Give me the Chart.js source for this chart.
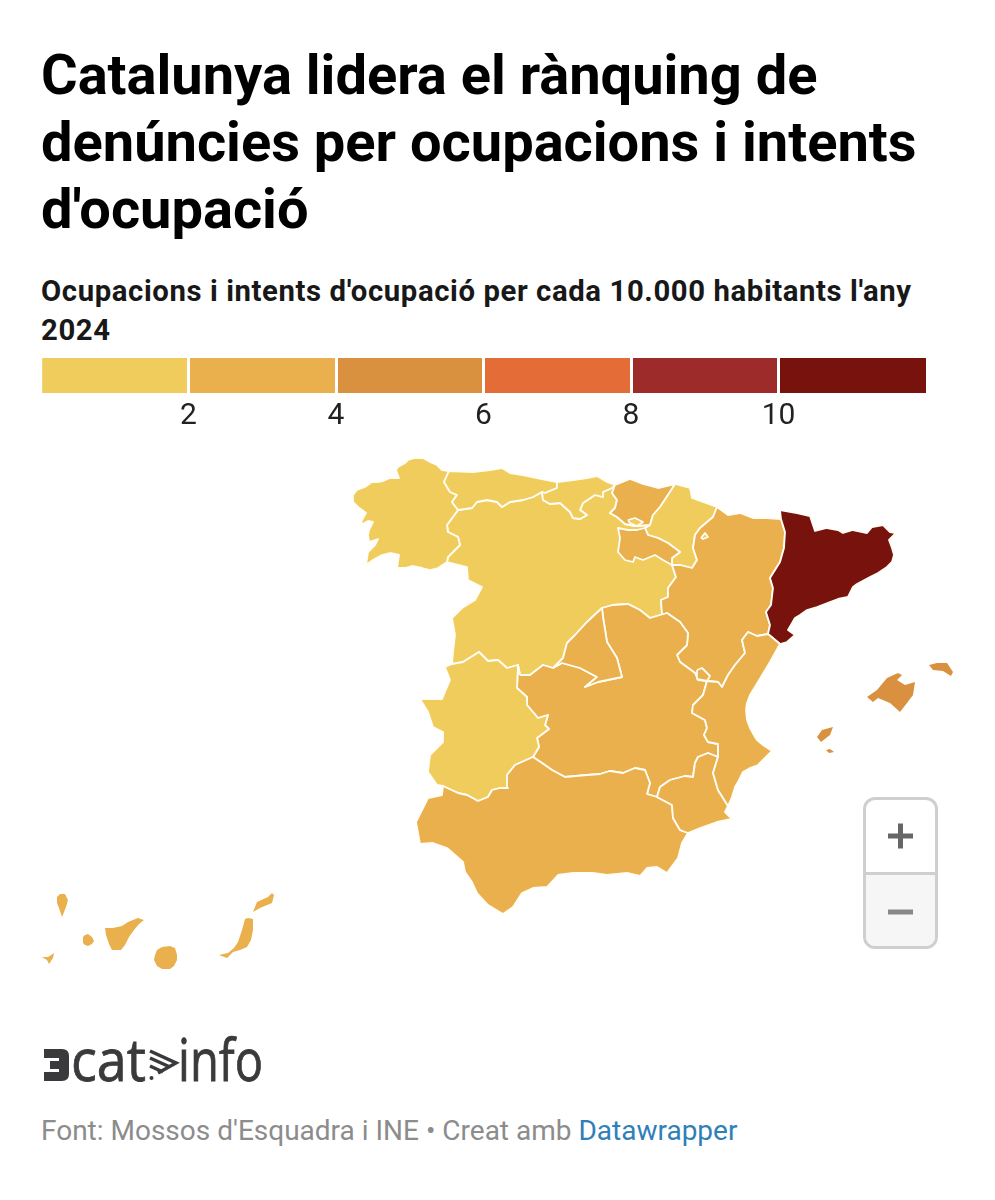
<!DOCTYPE html>
<html lang="ca">
<head>
<meta charset="utf-8">
<title>Catalunya lidera el rànquing de denúncies</title>
<script src="https://cdn.jsdelivr.net/npm/chart.js@4"></script>
<style>
	html, body { margin: 0; padding: 0; background: #fff; }
	body { position: relative; width: 995px; height: 1200px; overflow: hidden; font-family: Roboto, sans-serif; color: #000; }
	.abs { position: absolute; }
	#title { left: 41px; top: 42px; width: 930px; font-size: 56px; line-height: 67px; font-weight: 700; margin: 0; }
	#subtitle { left: 41px; top: 272px; width: 900px; font-size: 29.3px; line-height: 39px; font-weight: 700; color: #181818; letter-spacing: 0.6px; }
	#legendBox { left: 41px; top: 358px; width: 885px; height: 70px; }
	#mapBox { left: 0; top: 440px; width: 995px; height: 550px; }
	#zoomBox { left: 863px; top: 797px; width: 69px; height: 146px; border: 3px solid #cfcfcf; border-radius: 12px; overflow: hidden; }
	#zoomBox div { height: 72px; position: relative; }
	#zoomBox .minus { background: #f6f6f6; border-top: 3px solid #cfcfcf; height: 71px; }
	#zoomBox svg { position: absolute; left: 0; top: 0; }
	#footer { left: 41px; top: 1114px; font-size: 28px; line-height: 34px; color: #8c8c8c; white-space: nowrap; }
	#footer span { color: #2f7fb8; }
	#logo { left: 0; top: 1020px; }
</style>
</head>
<body>
<h1 id="title" class="abs">Catalunya lidera el rànquing de denúncies per ocupacions i intents d'ocupació</h1>
<div id="subtitle" class="abs">Ocupacions i intents d'ocupació per cada 10.000 habitants l'any 2024</div>
<div id="legendBox" class="abs"><canvas id="legendChart"></canvas></div>
<div id="mapBox" class="abs"><canvas id="mapChart"></canvas></div>
<div id="zoomBox" class="abs">
	<div><svg width="69" height="72"><path d="M22 36H47M34.500 23.500V48.500" stroke="#666" stroke-width="5" fill="none"/></svg></div>
	<div class="minus"><svg width="69" height="71"><path d="M22 37H47" stroke="#888" stroke-width="5" fill="none"/></svg></div>
</div>
<svg id="logo" class="abs" width="300" height="75">
	<path d="M44 29H62Q69 29 69 36V54Q69 61 62 61H44V52H59V49H50V41H59V38H44Z" fill="#3a3a3c"/>
	<text x="71" y="61" font-family="Open Sans" font-size="58" fill="#3a3a3c" stroke="#3a3a3c" stroke-width="0.8" textLength="75" lengthAdjust="spacingAndGlyphs">cat</text>
	<path d="M150 31L176 43L158 53M150 38L170 47M150 46L163 52" stroke="#3a3a3c" stroke-width="3.500" fill="none"/>
	<circle cx="151.500" cy="58" r="2" fill="#3a3a3c"/>
	<text x="178" y="61" font-family="Open Sans" font-size="58" fill="#3a3a3c" stroke="#3a3a3c" stroke-width="0.8" textLength="85" lengthAdjust="spacingAndGlyphs">info</text>
</svg>
<div id="footer" class="abs">Font: Mossos d'Esquadra i INE • Creat amb <span>Datawrapper</span></div>

<script>
// Colour bins of the legend
const binBreaks = [0, 2, 4, 6, 8, 10, 12];
const binColors = ['#efcc5c', '#e9b04d', '#d9913f', '#e46c36', '#9c2b2a', '#77120d'];

// Regions and estimated value (only the colour class can be read from the map)
const regionNames = ['Castella i Lleó', 'Galícia', 'Astúries', 'Cantàbria', 'País Basc', 'Navarra', 'La Rioja', 'Aragó', 'Catalunya', 'Castella-la Manxa', 'Madrid', 'Extremadura', 'Andalusia', 'Múrcia', 'País Valencià', 'Balears', 'Canàries'];
const regionValues = [1.2, 1.1, 1.3, 1.4, 2.6, 1.7, 2.5, 2.8, 11, 2.9, 3.0, 1.5, 3.1, 2.8, 3.3, 4.6, 3.0];

// Shared borders, in map units
const galAst = [[449,471],[444,482],[450,492],[457,495],[452,502],[458,510]];
const galCyl = [[458,510],[447,525],[448,532],[458,537],[460,545],[448,557],[447,562]];
const astCyl = [[458,510],[472,508],[477,502],[487,500],[497,502],[502,507],[510,502],[523,500],[533,497],[542,492]];
const astCan = [[557,482],[557,488],[545,493],[542,492]];
const canCyl = [[542,492],[543,500],[550,504],[560,503],[570,512],[573,518],[580,519],[587,515],[580,510],[583,503],[595,495],[603,497],[603,492],[612,488],[615,485]];
const basCyl = [[615,485],[612,493],[617,500],[615,508],[610,513],[617,517],[625,524],[635,526],[650,525]];
const basNav = [[675,484],[668,495],[660,507],[653,515],[650,525]];
const navRio = [[672,565],[672,558],[680,552],[668,543],[658,538],[648,535],[645,528],[650,525]];
const navAra = [[717,507],[713,517],[700,528],[695,535],[693,548],[697,560],[692,568],[680,565],[672,565]];
const araCat = [[781,519],[785,532],[784,548],[780,562],[770,578],[773,588],[771,605],[766,612],[770,625],[768,634]];
const araVal = [[768,634],[757,636],[748,632],[742,640],[745,653],[735,665],[728,675],[722,687],[718,682],[707,681]];
const araClm = [[707,681],[698,680],[695,673],[680,662],[677,655],[687,645],[688,633],[680,622],[667,613]];
const araCyl = [[667,613],[662,615],[661,600],[668,597],[668,588],[676,577],[672,565]];
const cylClm = [[602,608],[613,605],[628,604],[640,610],[650,618],[667,613]];
const cylMad = [[553,668],[563,658],[567,643],[575,635],[587,622],[602,608]];
const madClm = [[553,668],[562,663],[580,668],[597,677],[585,687],[598,682],[622,677],[617,658],[607,642],[603,617],[602,608]];
const clmCylWest = [[518,665],[520,675],[530,675],[543,665],[553,668]];
const extCyl = [[452,664],[463,662],[479,652],[488,661],[498,660],[507,668],[518,665]];
const extClm = [[518,665],[517,688],[527,697],[527,705],[538,718],[548,715],[545,725],[549,729],[537,738],[539,747],[533,757]];
const extAnd = [[443,786],[458,793],[467,795],[478,801],[488,797],[492,790],[500,788],[508,788],[507,775],[515,765],[533,757]];
const andClm = [[533,757],[542,763],[552,770],[565,777],[587,775],[600,774],[610,771],[623,773],[635,768],[645,770],[650,783],[647,794],[657,797]];
const andMur = [[688,833],[680,830],[673,818],[672,805],[657,797]];
const murClm = [[657,797],[660,787],[670,780],[685,776],[693,777],[695,763],[698,757],[708,753],[718,757]];
const valMur = [[728,806],[718,790],[713,773],[718,757]];
const valClm = [[707,681],[703,695],[693,705],[692,713],[705,720],[707,728],[704,735],[708,742],[718,744],[718,757]];

// Coast and frontier stretches
const galCoast = [[449,471],[442,470],[437,465],[430,462],[423,458],[415,458],[408,460],[405,463],[398,467],[396,470],[399,478],[390,478],[383,481],[377,482],[372,482],[365,487],[357,490],[353,495],[353,502],[358,507],[366,513],[362,520],[361,525],[368,521],[373,522],[369,530],[368,535],[369,542],[378,539],[375,545],[368,552],[366,565],[373,560],[382,555],[390,553],[399,555],[397,568],[405,568],[412,566],[422,568],[430,570],[438,568],[447,562]];
const astCoast = [[449,471],[473,472],[490,470],[502,468],[510,473],[523,475],[537,478],[557,482]];
const canCoast = [[557,482],[573,480],[587,478],[597,476],[607,482],[615,485]];
const basCoast = [[615,485],[630,479],[643,484],[658,488],[675,484]];
const navNorth = [[675,484],[690,488],[692,498],[703,502],[717,507]];
const araNorth = [[717,507],[728,515],[740,513],[753,518],[767,518],[781,519]];
const catCoast = [[781,519],[780,510],[797,513],[810,516],[815,531],[827,528],[838,530],[843,533],[853,530],[867,533],[872,527],[883,525],[890,532],[896,533],[889,540],[892,548],[894,555],[892,562],[887,567],[878,573],[870,577],[857,584],[853,587],[848,597],[838,599],[830,602],[817,607],[807,610],[800,615],[795,618],[788,630],[795,635],[787,642],[780,644],[768,634]];
const valCoast = [[768,634],[780,644],[770,662],[758,682],[750,695],[747,703],[746,710],[747,720],[750,728],[755,737],[757,740],[763,745],[772,751],[765,758],[758,765],[750,768],[743,772],[738,782],[735,787],[732,797],[728,806]];
const murCoast = [[728,806],[725,812],[732,819],[717,822],[700,828],[688,833]];
const andCoast = [[688,833],[682,843],[678,858],[667,873],[657,867],[647,868],[640,876],[627,873],[607,875],[593,873],[573,873],[558,875],[547,887],[533,888],[522,893],[513,907],[503,914],[488,905],[477,893],[472,882],[465,872],[463,862],[447,848],[433,843],[420,844],[416,822],[428,798],[442,795],[443,786]];
const extWest = [[443,786],[437,785],[428,772],[430,755],[443,742],[443,732],[433,727],[428,712],[420,699],[442,699],[450,680],[445,667],[452,664]];
const cylWest = [[447,562],[467,567],[468,580],[482,587],[475,600],[462,608],[452,618],[455,635],[453,652],[452,664]];
const rioNorth = [[650,525],[645,528],[637,530],[628,530],[618,528],[620,538],[618,552],[625,560],[633,562],[635,557],[643,560],[655,555],[663,560],[672,565],[672,558],[680,552],[668,543],[658,538],[648,535],[645,528]];

// Enclaves and islands
const trevino = [[628,520],[635,518],[643,522],[637,526],[630,523]];
const petilla = [[701,538],[705,533],[708,537],[703,539]];
const ademuz = [[697,670],[702,668],[710,676],[707,681],[697,679]];
const mallorca = [[867,697],[877,690],[887,678],[898,673],[902,675],[897,680],[905,685],[915,682],[913,695],[907,703],[900,712],[890,703],[878,698],[873,702]];
const menorca = [[929,665],[937,663],[947,663],[953,672],[951,676],[943,671],[933,670]];
const eivissa = [[817,737],[822,730],[833,727],[830,735],[821,742]];
const formentera = [[826,750],[830,749],[834,752],[829,753]];
const laPalma = [[57,897],[60,894],[65,894],[68,900],[66,907],[62,917],[59,908],[57,903]];
const hierro = [[42,957],[48,957],[54,953],[53,958],[49,964],[47,960]];
const gomera = [[83,937],[85,935],[88,934],[92,937],[94,941],[92,944],[88,946],[85,945],[83,943]];
const tenerife = [[105,928],[113,928],[122,926],[128,922],[133,920],[138,918],[144,920],[139,924],[134,930],[129,937],[125,945],[121,950],[112,950],[109,944],[106,935]];
const granCanaria = [[162,947],[170,946],[175,948],[177,955],[177,960],[174,966],[170,969],[162,969],[157,966],[154,960],[155,955],[157,950]];
const fuerteventura = [[245,919],[248,918],[253,919],[253,930],[251,940],[247,947],[240,950],[233,952],[227,958],[219,955],[228,953],[234,948],[238,942],[242,930]];
const lanzarote = [[253,912],[257,902],[268,897],[272,893],[274,895],[272,903],[260,908]];

const rev = line => line.slice().reverse();
const colorFor = v => binColors[binBreaks.findIndex((b, i) => v >= b && v < binBreaks[i + 1])];
const valueOf = name => regionValues[regionNames.indexOf(name)];

// Castella i Lleó goes under La Rioja and the enclaves, which are drawn later on top of it
const regionShapes = [
	['Castella i Lleó', [].concat(cylWest, extCyl, clmCylWest, cylMad, cylClm, araCyl, rev(basCyl), rev(canCyl), rev(astCyl), galCyl)],
	['Galícia', [].concat(galCoast, rev(galCyl), rev(galAst))],
	['Astúries', [].concat(astCoast, astCan, rev(astCyl), rev(galAst))],
	['Cantàbria', [].concat(canCoast, rev(canCyl), rev(astCan))],
	['País Basc', [].concat(basCoast, basNav, rev(basCyl))],
	['Navarra', [].concat(navNorth, navAra, navRio, rev(basNav))],
	['La Rioja', rioNorth],
	['Aragó', [].concat(araNorth, araCat, araVal, araClm, araCyl, rev(navAra))],
	['Catalunya', [].concat(catCoast, rev(araCat))],
	['Castella-la Manxa', [].concat(clmCylWest.slice(1), madClm, cylClm, rev(araClm), valClm, rev(murClm), rev(andClm), rev(extClm))],
	['Madrid', [].concat(cylMad, rev(madClm))],
	['Extremadura', [].concat(extWest, extCyl, extClm, rev(extAnd))],
	['Andalusia', [].concat(andCoast, extAnd, andClm, rev(andMur))],
	['Múrcia', [].concat(murCoast, andMur, murClm, rev(valMur))],
	['País Valencià', [].concat(valCoast, valMur, rev(valClm), rev(araVal))],
	['Castella i Lleó', trevino],
	['Navarra', petilla],
	['País Valencià', ademuz],
	['Balears', mallorca],
	['Balears', menorca],
	['Balears', eivissa],
	['Balears', formentera],
	['Canàries', laPalma],
	['Canàries', hierro],
	['Canàries', gomera],
	['Canàries', tenerife],
	['Canàries', granCanaria],
	['Canàries', fuerteventura],
	['Canàries', lanzarote]
];

// Fills each outline from the points the scales have placed, the line draws the white border
const regionFill = {
	id: 'regionFill',
	beforeDatasetDraw(chart, args) {
		const pts = args.meta.data;
		const ctx = chart.ctx;
		ctx.save();
		ctx.beginPath();
		pts.forEach((p, i) => i ? ctx.lineTo(p.x, p.y) : ctx.moveTo(p.x, p.y));
		ctx.closePath();
		ctx.fillStyle = chart.data.datasets[args.index].backgroundColor;
		ctx.fill();
		ctx.restore();
	}
};

document.addEventListener('DOMContentLoaded', function() {
	new Chart(document.getElementById('mapChart'), {
		type: 'scatter',
		plugins: [regionFill],
		data: {
			// Chart.js paints the first dataset last, so the list is turned round
			datasets: regionShapes.map(([name, shape]) => {
				const isIsland = name === 'Balears' || name === 'Canàries';
				return {
					label: name,
					data: shape.concat([shape[0]]).map(([x, y]) => ({ x, y })),
					showLine: true,
					backgroundColor: colorFor(valueOf(name)),
					borderColor: '#fffdf5',
					borderWidth: isIsland ? 0 : 1.8,
					borderJoinStyle: 'round',
					pointRadius: 0,
					pointHoverRadius: 0,
					clip: false
				};
			}).reverse()
		},
		options: {
			responsive: true,
			maintainAspectRatio: false,
			animation: false,
			layout: { padding: 0 },
			plugins: { legend: { display: false }, tooltip: { enabled: false } },
			scales: {
				x: { type: 'linear', display: false, min: 0, max: 995 },
				y: { type: 'linear', display: false, min: 440, max: 990, reverse: true }
			}
		}
	});

	const binLabels = binColors.map((c, i) => binBreaks[i] + '-' + binBreaks[i + 1]);
	new Chart(document.getElementById('legendChart'), {
		type: 'bar',
		data: {
			labels: ['Llegenda'],
			datasets: binColors.map((color, i) => ({
				label: binLabels[i],
				data: [binBreaks[i + 1] - binBreaks[i]],
				backgroundColor: color,
				barPercentage: 1,
				categoryPercentage: 1
			}))
		},
		options: {
			indexAxis: 'y',
			responsive: true,
			maintainAspectRatio: false,
			animation: false,
			layout: { padding: 0 },
			plugins: { legend: { display: false }, tooltip: { enabled: false } },
			scales: {
				x: {
					stacked: true,
					min: 0,
					max: 12,
					border: { display: false },
					afterFit: scale => { scale.paddingLeft = 0; scale.paddingRight = 0; },
					grid: {
						z: 1,
						drawTicks: false,
						lineWidth: 3,
						color: ctx => (ctx.tick.value > 0 && ctx.tick.value < 12 ? '#fff' : 'transparent')
					},
					ticks: {
						stepSize: 2,
						maxRotation: 0,
						padding: 5,
						color: '#222',
						font: { family: 'Roboto', size: 30 },
						callback: v => (v > 0 && v < 12 ? v : '')
					}
				},
				y: { stacked: true, display: false }
			}
		}
	});
});
</script>
</body>
</html>
